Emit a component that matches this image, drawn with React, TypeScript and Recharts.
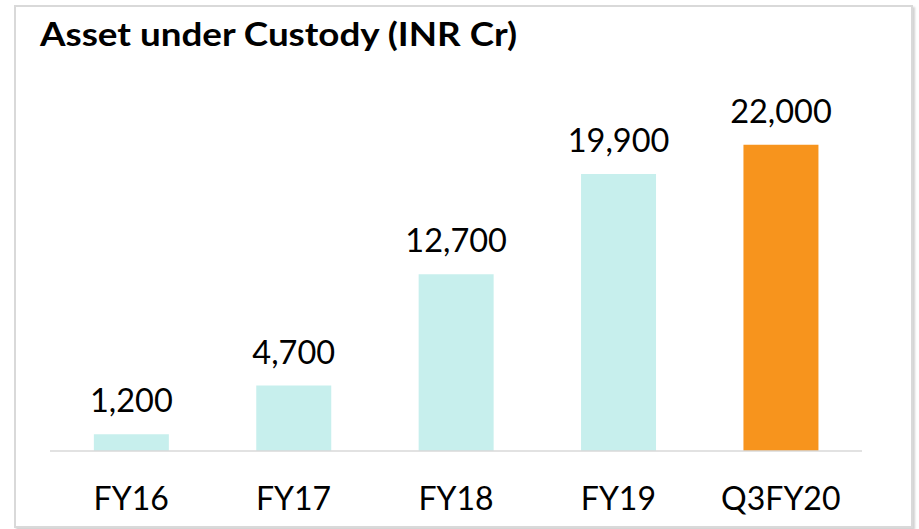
import React from "react";
import { BarChart, Bar, XAxis, YAxis, Cell, LabelList } from "recharts";

const categories = ["FY16", "FY17", "FY18", "FY19", "Q3FY20"];
const values = [1200, 4700, 12700, 19900, 22000];
const barColors = ["#c7efed", "#c7efed", "#c7efed", "#c7efed", "#f7941d"];
const title = "Asset under Custody (INR Cr)";

const data = categories.map((c, i) => ({ name: c, value: values[i] }));

const FONT = "Lato, 'Open Sans', sans-serif";

const fmt = (v: number) => v.toLocaleString("en-US");

const ValueLabel = (props: any) => {
  const { x, y, width, value } = props;
  return (
    <text
      x={Number(x) + Number(width) / 2}
      y={Number(y) - 22}
      textAnchor="middle"
      fontFamily={FONT}
      fontSize={32.5}
      fill="#000"
    >
      {fmt(Number(value))}
    </text>
  );
};

const CatTick = (props: any) => {
  const { x, y, payload } = props;
  return (
    <text
      x={x}
      y={Number(y) + 59}
      textAnchor="middle"
      fontFamily={FONT}
      fontSize={32}
      fill="#000"
    >
      {payload.value}
    </text>
  );
};

export default function App() {
  return (
    <div
      style={{
        position: "absolute",
        left: 0,
        top: 0,
        width: 919,
        height: 529,
        background: "#fff",
        overflow: "hidden",
      }}
    >
      <div
        style={{
          position: "absolute",
          left: 14,
          top: 5,
          width: 895,
          height: 519,
          border: "2px solid #d9d9d9",
          boxShadow: "2px 2px 2px rgba(0,0,0,0.18)",
          background: "#fff",
        }}
      />
      <svg
        width={919}
        height={80}
        style={{ position: "absolute", left: 0, top: 0 }}
      >
        <text
          x={40}
          y={46}
          fontFamily={FONT}
          fontWeight={700}
          fontSize={32}
          fill="#000"
          textLength={477}
          lengthAdjust="spacingAndGlyphs"
        >
          {title}
        </text>
      </svg>
      <div style={{ position: "absolute", left: 0, top: 0 }}>
        <BarChart
          width={919}
          height={529}
          data={data}
          margin={{ top: 117, right: 57, bottom: 18, left: 50 }}
          barCategoryGap="27%"
        >
          <XAxis
            dataKey="name"
            axisLine={{ stroke: "#d9d9d9", strokeWidth: 1.5 }}
            tickLine={false}
            tickSize={0}
            tickMargin={0}
            height={60}
            interval={0}
            tick={<CatTick />}
          />
          <YAxis hide domain={[0, 24000]} />
          <Bar dataKey="value" isAnimationActive={false}>
            {data.map((d, i) => (
              <Cell key={d.name} fill={barColors[i]} />
            ))}
            <LabelList dataKey="value" content={<ValueLabel />} />
          </Bar>
        </BarChart>
      </div>
    </div>
  );
}
